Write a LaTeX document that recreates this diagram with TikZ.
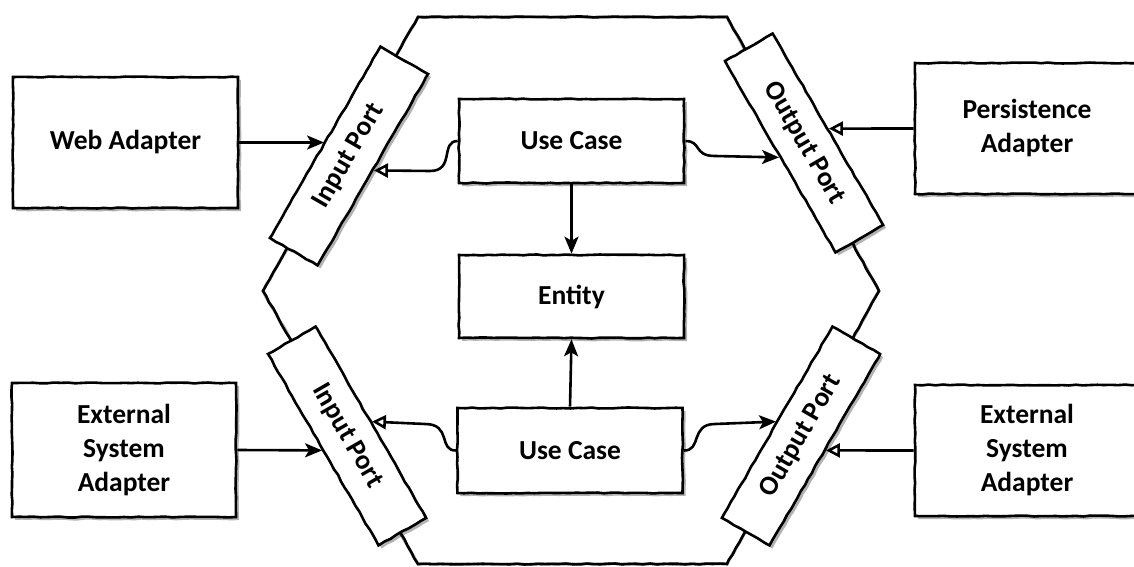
\documentclass[tikz,border=0pt]{standalone}
\usepackage{fontspec}
\setmainfont{Carlito}
\usetikzlibrary{arrows.meta,shadows,decorations.pathmorphing,calc}
\begin{document}
\pgfmathsetseed{7}
\begin{tikzpicture}[x=1pt,y=-1pt,
  wobbly/.style={decorate,decoration={random steps,segment length=7pt,amplitude=0.5pt}},
  boxshadow/.style={drop shadow={shadow xshift=3pt,shadow yshift=-3pt,opacity=0.3,fill=black}},
  box/.style={draw,line width=2.6pt,fill=white,boxshadow,wobbly,align=center,
     font=\bfseries\fontsize{27.5}{34}\selectfont,inner sep=0pt},
  adapter/.style={box,minimum width=224pt,minimum height=131pt},
  core/.style={box,minimum width=225pt,minimum height=84pt},
  port/.style={box,minimum width=221pt,minimum height=55pt},
  conn/.style={line width=2.6pt},
  arr/.style={conn,-{Stealth[length=17pt,width=14pt,inset=4pt]}},
  oarr/.style={conn,-{Triangle[open,length=14pt,width=14pt,fill=white]}},
  hex/.style={line width=2.6pt,wobbly,line join=miter}
]
\useasboundingbox (0,0) rectangle (1134,567);
\clip (0,0) rectangle (1134,567);

% hexagon
\coordinate (h1) at (418,17);
\coordinate (h2) at (727,17);
\coordinate (h3) at (879,291);
\coordinate (h4) at (727,564);
\coordinate (h5) at (418,564);
\coordinate (h6) at (263,291);
\draw[hex,black!30,line width=3pt,shift={(3,3)}] (h1) -- (h2) -- (h3) -- (h4) -- (h5) -- (h6) -- cycle;
\draw[hex] (h1) -- (h2) -- (h3) -- (h4) -- (h5) -- (h6) -- cycle;

% adapters
\node[adapter,minimum width=225pt] (wa) at (125.5,142.5) {Web Adapter};
\node[adapter,minimum height=134pt] (esl) at (124,450) {External\\System\\Adapter};
\node[adapter] (pa) at (1027,128.5) {Persistence\\Adapter};
\node[adapter] (esr) at (1027,450.5) {External\\System\\Adapter};

% core
\node[core] (uc1) at (571.5,141) {Use Case};
\node[core,minimum height=83pt] (en) at (571.5,296.5) {Entity};
\node[core,minimum height=85pt] (uc2) at (570,450.5) {Use Case};

% ports
\node[port,rotate=60] (ip1) at (349,156) {Input Port};
\node[port,rotate=-60] (op1) at (804,143) {Output Port};
\node[port,rotate=-60] (ip2) at (347,436) {Input Port};
\node[port,rotate=60] (op2) at (801,436) {Output Port};

% connectors
\draw[arr] (wa.east) -- (wa.east -| ip1.north);
\draw[arr] (esl.east) -- (ip2.south);
\draw[oarr] (pa.west) -- (op1.north);
\draw[oarr] (esr.west) -- (op2.south);

\draw[arr] (uc1.south) -- (en.north);
\draw[arr] (uc2.north) -- (en.south);

\coordinate (b1) at (430,171);
\coordinate (b2) at (715,156);
\coordinate (b3) at (425,424);
\coordinate (b4) at (715,424);
\draw[oarr] (uc1.west) .. controls (440,141) and (455,171) .. (b1) -- (ip1.south);
\draw[arr] (uc1.east) .. controls (702,141) and (693,156) .. (b2) -- (op1.south);
\draw[oarr] (uc2.west) .. controls (438,451) and (452,424) .. (b3) -- (ip2.north);
\draw[arr] (uc2.east) .. controls (702,451) and (690,424) .. (b4) -- (op2.north);
\end{tikzpicture}
\end{document}
